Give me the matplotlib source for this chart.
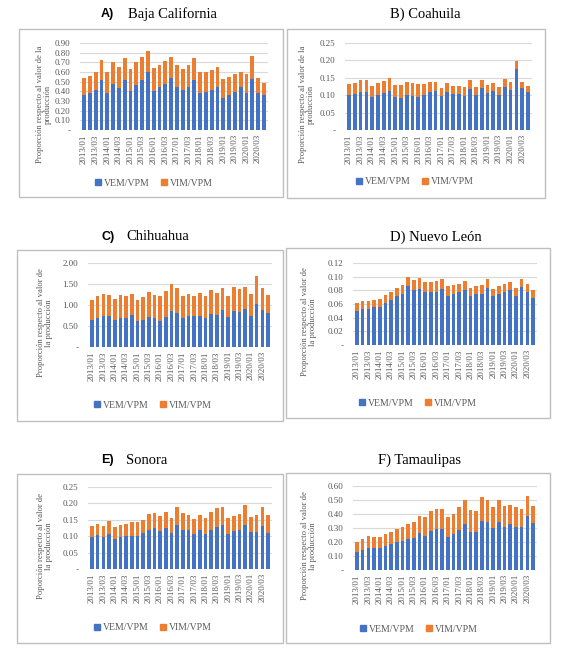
import matplotlib
matplotlib.use("Agg")
import matplotlib.pyplot as plt
from matplotlib.patches import Rectangle
from matplotlib.lines import Line2D
import numpy as np

W, H = 579, 650

quarters = [f"{y}/{q:02d}" for y in range(2013, 2021) for q in (1, 2, 3, 4)]
tick_labels = [f"{y}/{q:02d}" for y in range(2013, 2021) for q in (1, 3)]

baja_vem = [0.36, 0.38, 0.41, 0.52, 0.38, 0.48, 0.43, 0.52, 0.40, 0.47, 0.52, 0.60, 0.40, 0.44, 0.48, 0.54,
            0.44, 0.41, 0.44, 0.52, 0.38, 0.39, 0.41, 0.44, 0.33, 0.36, 0.39, 0.44, 0.38, 0.53, 0.38, 0.36]
baja_tot = [0.54, 0.56, 0.60, 0.72, 0.60, 0.70, 0.65, 0.74, 0.63, 0.70, 0.76, 0.82, 0.64, 0.67, 0.71, 0.76,
            0.67, 0.63, 0.67, 0.74, 0.60, 0.60, 0.62, 0.65, 0.53, 0.55, 0.58, 0.60, 0.58, 0.77, 0.54, 0.49]

coah_vem = [0.101, 0.103, 0.110, 0.109, 0.095, 0.102, 0.105, 0.112, 0.094, 0.092, 0.100, 0.097, 0.094, 0.100, 0.108, 0.111,
            0.097, 0.108, 0.103, 0.103, 0.098, 0.117, 0.102, 0.120, 0.105, 0.112, 0.102, 0.125, 0.115, 0.175, 0.120, 0.108]
coah_tot = [0.133, 0.136, 0.143, 0.143, 0.127, 0.136, 0.140, 0.149, 0.129, 0.129, 0.139, 0.136, 0.133, 0.133, 0.137, 0.138,
            0.122, 0.134, 0.127, 0.127, 0.124, 0.143, 0.125, 0.145, 0.129, 0.136, 0.124, 0.146, 0.139, 0.198, 0.137, 0.127]

chih_vem = [0.64, 0.68, 0.74, 0.73, 0.65, 0.70, 0.70, 0.77, 0.63, 0.64, 0.72, 0.68, 0.63, 0.72, 0.85, 0.82,
            0.68, 0.74, 0.73, 0.73, 0.70, 0.78, 0.77, 0.87, 0.71, 0.86, 0.83, 0.90, 0.74, 1.03, 0.89, 0.82]
chih_tot = [1.13, 1.22, 1.27, 1.25, 1.15, 1.25, 1.22, 1.27, 1.11, 1.18, 1.31, 1.25, 1.22, 1.33, 1.49, 1.40,
            1.22, 1.27, 1.21, 1.28, 1.22, 1.35, 1.29, 1.40, 1.22, 1.43, 1.38, 1.43, 1.27, 1.70, 1.40, 1.25]

nl_vem = [0.050, 0.052, 0.053, 0.055, 0.055, 0.062, 0.066, 0.072, 0.074, 0.086, 0.080, 0.082, 0.077, 0.077, 0.078, 0.082,
          0.071, 0.075, 0.077, 0.080, 0.071, 0.074, 0.075, 0.084, 0.071, 0.075, 0.078, 0.080, 0.072, 0.085, 0.077, 0.069]
nl_tot = [0.062, 0.064, 0.065, 0.066, 0.067, 0.073, 0.077, 0.084, 0.088, 0.100, 0.095, 0.098, 0.092, 0.092, 0.093, 0.097,
          0.086, 0.088, 0.090, 0.094, 0.084, 0.087, 0.088, 0.097, 0.082, 0.087, 0.090, 0.092, 0.084, 0.096, 0.089, 0.081]

son_vem = [0.097, 0.105, 0.098, 0.108, 0.092, 0.097, 0.100, 0.102, 0.101, 0.110, 0.118, 0.125, 0.115, 0.125, 0.110, 0.135,
           0.120, 0.118, 0.108, 0.118, 0.107, 0.120, 0.128, 0.135, 0.108, 0.115, 0.118, 0.133, 0.113, 0.113, 0.132, 0.110]
son_tot = [0.131, 0.138, 0.132, 0.145, 0.127, 0.135, 0.138, 0.143, 0.142, 0.150, 0.167, 0.170, 0.162, 0.173, 0.157, 0.188,
           0.170, 0.166, 0.153, 0.166, 0.155, 0.173, 0.185, 0.188, 0.155, 0.163, 0.168, 0.195, 0.158, 0.164, 0.188, 0.165]

tam_vem = [0.13, 0.145, 0.16, 0.16, 0.16, 0.17, 0.185, 0.20, 0.21, 0.22, 0.23, 0.265, 0.245, 0.28, 0.29, 0.29,
           0.235, 0.255, 0.285, 0.33, 0.275, 0.27, 0.35, 0.345, 0.30, 0.34, 0.31, 0.33, 0.305, 0.305, 0.385, 0.335]
tam_tot = [0.20, 0.22, 0.245, 0.235, 0.235, 0.255, 0.27, 0.295, 0.31, 0.33, 0.345, 0.385, 0.38, 0.42, 0.435, 0.435,
           0.38, 0.40, 0.45, 0.50, 0.43, 0.425, 0.52, 0.50, 0.45, 0.50, 0.455, 0.465, 0.45, 0.435, 0.53, 0.46]

series_names = ["VEM/VPM", "VIM/VPM"]

BLUE = "#4472C4"
ORANGE = "#ED7D31"
GRAY = "#595959"
SERIF = "Liberation Serif"
SANS = "Liberation Sans"

fig = plt.figure(figsize=(W / 100, H / 100), dpi=100)
fig.patch.set_facecolor("white")


def fx(x):
    return x / W


def fy(y):
    return 1 - y / H


panels = [
    ("A)", "Baja California", True, baja_vem, baja_tot, 0.90, 0.10, "{:.2f}",
     (80, 43, 268, 130), (19, 29, 283, 197), (101, 128, 14),
     "Proporción respecto al valor de la\nproducción", 44, (153, 183)),
    ("B)", "Coahuila", False, coah_vem, coah_tot, 0.25, 0.05, "{:.2f}",
     (345, 43, 532, 130), (287, 29, 545, 198), (425, None, 14),
     "Proporción respecto al valor de la\nproducción", 307, (414, 182)),
    ("C)", "Chihuahua", True, chih_vem, chih_tot, 2.00, 0.50, "{:.2f}",
     (88, 263, 272, 347), (17, 250, 283, 421), (102, 126, 237),
     "Proporción respecto al valor de\nla producción", 45, (152, 405)),
    ("D)", "Nuevo León", False, nl_vem, nl_tot, 0.12, 0.02, "{:.2f}",
     (353, 263, 537, 345), (286, 248, 550, 418), (436, None, 237),
     "Proporción respecto al valor de\nla producción", 309, (417, 403)),
    ("E)", "Sonora", True, son_vem, son_tot, 0.25, 0.05, "{:.2f}",
     (88, 487, 272, 569), (17, 474, 283, 643), (101, 126, 460),
     "Poporción respecto al valor de\nla producción", 45, (152, 628)),
    ("F)", "Tamaulipas", False, tam_vem, tam_tot, 0.60, 0.10, "{:.2f}",
     (353, 486, 537, 570), (286, 473, 550, 643), (420, None, 460),
     "Proporción respecto al valor de\nla producción", 309, (418, 629)),
]

x = np.arange(len(quarters))

for (letter, name, split, vem, tot, ymax, ystep, fmt, axb, boxb, tpos,
     ylab, ylab_x, legpos) in panels:
    l, t, r, b = boxb
    fig.patches.append(Rectangle((fx(l), fy(b)), fx(r - l), (b - t) / H,
                                 transform=fig.transFigure, fill=False,
                                 edgecolor="#BFBFBF", linewidth=1.0, zorder=0))
    if split:
        fig.text(fx(tpos[0]), fy(tpos[2]), letter, family=SANS, fontsize=9,
                 fontweight="bold", ha="left", va="center", color="black")
        fig.text(fx(tpos[1]), fy(tpos[2]), name, family=SERIF, fontsize=10.5,
                 ha="left", va="center", color="black")
    else:
        fig.text(fx(tpos[0]), fy(tpos[2]), f"{letter} {name}", family=SERIF,
                 fontsize=10.5, ha="center", va="center", color="black")

    l, t, r, b = axb
    ax = fig.add_axes([fx(l), fy(b), fx(r - l), (b - t) / H])
    vem_a = np.array(vem)
    vim_a = np.array(tot) - vem_a
    ax.bar(x, vem_a, width=0.64, color=BLUE, zorder=3, label=series_names[0])
    ax.bar(x, vim_a, bottom=vem_a, width=0.64, color=ORANGE, zorder=3, label=series_names[1])
    ax.set_xlim(-0.7, len(x) - 0.3)
    ax.set_ylim(0, ymax)
    yt = np.arange(0, ymax + ystep / 2, ystep)
    ax.set_yticks(yt)
    ax.set_yticklabels(["-" if abs(v) < 1e-9 else fmt.format(v) for v in yt],
                       family=SERIF, fontsize=6.5, color=GRAY)
    ax.set_xticks(x[::2])
    ax.set_xticklabels(tick_labels, rotation=90, family=SERIF, fontsize=6.5, color=GRAY)
    ax.tick_params(axis="x", length=0, pad=3)
    ax.tick_params(axis="y", length=0, pad=7)
    for s in ax.spines.values():
        s.set_visible(False)
    ax.grid(axis="y", color="#D9D9D9", linewidth=0.8, zorder=0)
    ax.set_axisbelow(True)

    cy = (t + b) / 2 + 18
    fig.text(fx(ylab_x), fy(cy), ylab, rotation=90, family=SERIF, fontsize=6.2,
             color=GRAY, ha="center", va="center", linespacing=1.1, multialignment="center")

    handles = [Line2D([], [], marker="s", linestyle="none", markersize=4,
                      markerfacecolor=c, markeredgecolor=c) for c in (BLUE, ORANGE)]
    fig.legend(handles, series_names, loc="center",
               bbox_to_anchor=(fx(legpos[0]), fy(legpos[1])),
               ncol=2, frameon=False, prop={"family": SERIF, "size": 7},
               handletextpad=0.1, columnspacing=0.9, labelcolor=GRAY,
               handlelength=1.0, borderaxespad=0, borderpad=0)

fig.savefig("out.png", dpi=100, facecolor="white")
